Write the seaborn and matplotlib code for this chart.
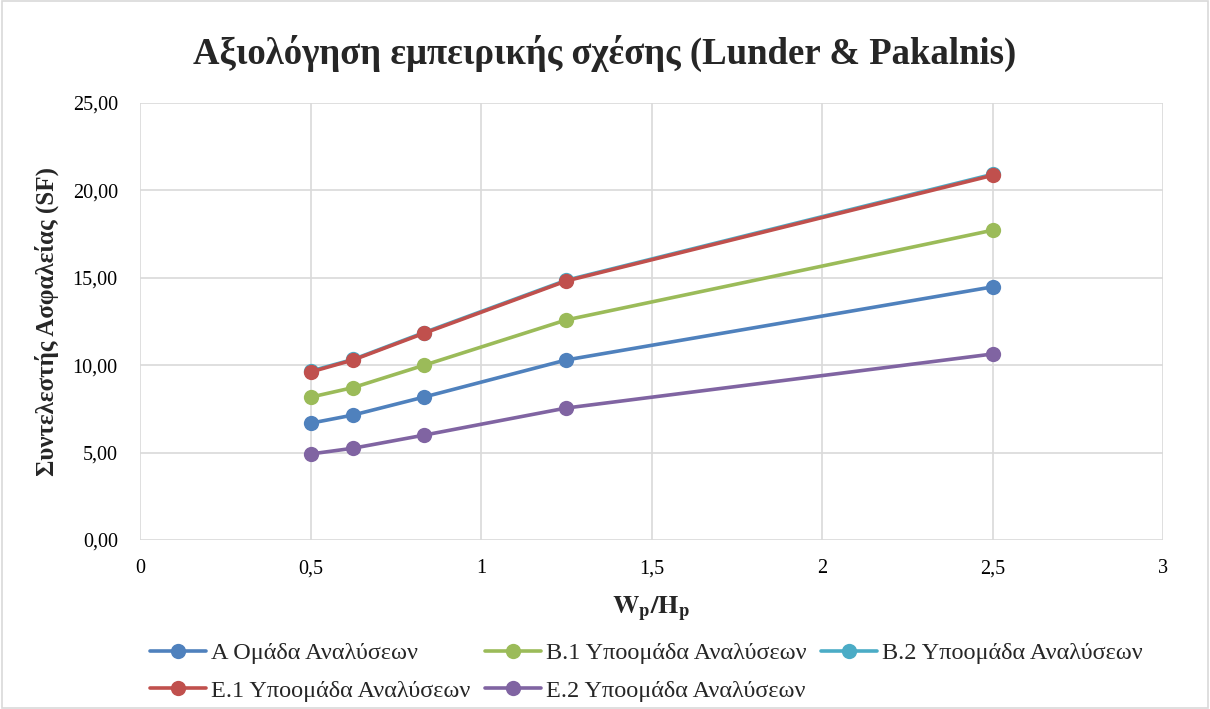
import matplotlib
matplotlib.use("Agg")
import matplotlib.pyplot as plt
import seaborn as sns
import pandas as pd
from matplotlib.ticker import FuncFormatter, MultipleLocator
from matplotlib.patches import Rectangle

# Data
x_vals = [0.5, 0.625, 0.8333, 1.25, 2.5]
series_names = ["Α Ομάδα Αναλύσεων", "Β.1 Υποομάδα Αναλύσεων", "Β.2 Υποομάδα Αναλύσεων",
                "Ε.1 Υποομάδα Αναλύσεων", "Ε.2 Υποομάδα Αναλύσεων"]
a_vals = [6.68, 7.15, 8.18, 10.30, 14.48]
b1_vals = [8.17, 8.72, 10.00, 12.59, 17.72]
b2_vals = [9.66, 10.33, 11.87, 14.86, 20.92]
e1_vals = [9.61, 10.30, 11.83, 14.82, 20.86]
e2_vals = [4.92, 5.25, 6.00, 7.55, 10.64]
colors = ["#4F81BD", "#9BBB59", "#4BACC6", "#C0504D", "#8064A2"]

title = "Αξιολόγηση εμπειρικής σχέσης (Lunder & Pakalnis)"
ylabel = "Συντελεστής Ασφαλείας (SF)"

rows = []
for name, vals in zip(series_names, [a_vals, b1_vals, b2_vals, e1_vals, e2_vals]):
    for xv, yv in zip(x_vals, vals):
        rows.append({"x": xv, "y": yv, "series": name})
df = pd.DataFrame(rows)

sns.set_theme(style="whitegrid")
plt.rcParams["font.family"] = ["Liberation Serif", "DejaVu Serif"]
plt.rcParams["mathtext.fontset"] = "stix"

fig = plt.figure(figsize=(12.10, 7.09), dpi=100)
ax = fig.add_axes([140/1210, 1 - 540/709, (1163-140)/1210, (540-103)/709])

sns.lineplot(data=df, x="x", y="y", hue="series", hue_order=series_names,
             palette=colors, marker="o", markersize=11, markeredgewidth=0,
             linewidth=2.6, ax=ax, legend=True)

ax.set_xlim(0, 3)
ax.set_ylim(0, 25)
ax.xaxis.set_major_locator(MultipleLocator(0.5))
ax.yaxis.set_major_locator(MultipleLocator(5))
ax.xaxis.set_major_formatter(FuncFormatter(lambda v, p: ("%g" % v).replace(".", ",")))
ax.yaxis.set_major_formatter(FuncFormatter(lambda v, p: ("%.2f" % v).replace(".", ",")))
ax.grid(True, color="#D9D9D9", linewidth=1.2)
for s in ax.spines.values():
    s.set_visible(False)
ax.tick_params(axis="both", length=0, labelsize=14.5, colors="black")
ax.tick_params(axis="x", pad=14)
ax.tick_params(axis="y", pad=16)

ax.set_xlabel(r"$\mathbf{W_p/H_p}$", fontsize=19, labelpad=12)
ax.set_ylabel(ylabel, fontsize=18, fontweight="bold", labelpad=10)

fig.text(0.5, 1 - 53/709, title, ha="center", va="center", fontsize=26.5, fontweight="bold")

handles, labels = ax.get_legend_handles_labels()
ax.get_legend().remove()
order = [0, 3, 1, 4, 2]
fig.legend([handles[i] for i in order], [labels[i] for i in order],
           loc="upper left", bbox_to_anchor=(138/1210, 1 - 630/709), ncol=3,
           frameon=False, fontsize=17.5, handlelength=2.3, handletextpad=0.2,
           columnspacing=0.6, labelspacing=0.65, borderpad=0.0)

fig.patches.append(Rectangle((0.002, 0.002), 0.996, 0.996, transform=fig.transFigure,
                             fill=False, edgecolor="#D9D9D9", linewidth=1.2))

fig.savefig("out.png", dpi=100, facecolor="white")
